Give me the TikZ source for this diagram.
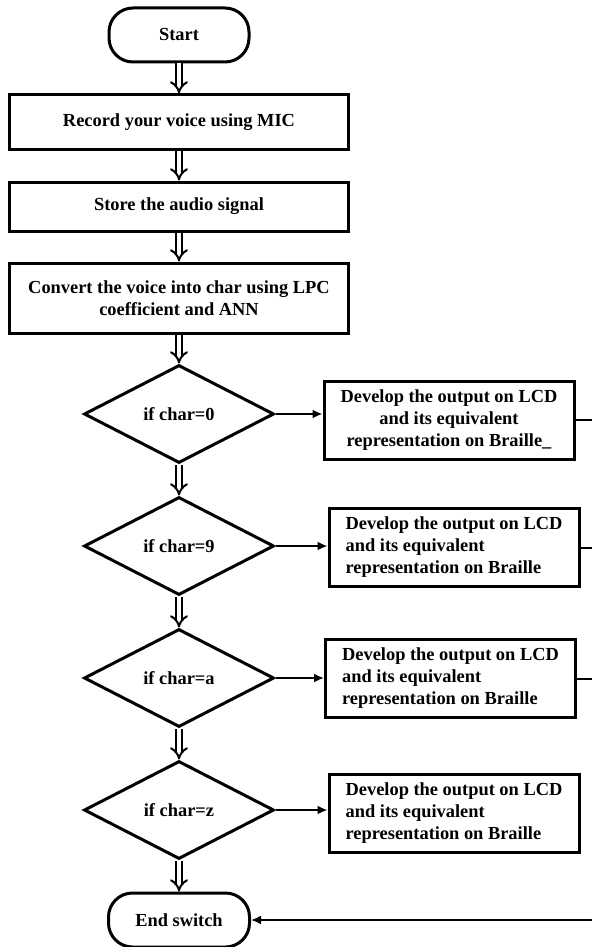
\documentclass[tikz,border=0pt]{standalone}
\usepackage{fontspec}
\setmainfont{Liberation Serif}
\usetikzlibrary{shapes.geometric,arrows.meta}

\begin{document}
\begin{tikzpicture}[x=0.5pt,y=-0.5pt,
    every node/.style={font=\bfseries\fontsize{9.2}{11}\selectfont},
    term/.style={draw,line width=1.5pt,rounded corners=12pt,minimum width=70pt,minimum height=27pt},
    proc/.style={draw,line width=1.5pt,minimum width=169.5pt,align=center},
    test/.style={draw,diamond,line width=1.5pt,minimum width=95pt,minimum height=49pt,inner sep=0pt},
    outbox/.style={draw,line width=1.5pt,minimum width=125pt,minimum height=39pt},
    dbl/.style={double,double distance=2pt,line width=1pt,-{Implies[scale=1.6]}},
    arr/.style={line width=1pt,-{Latex[length=5pt,width=4.5pt]}}]
    \useasboundingbox (0,0) rectangle (592,947);
    \node[term] (start) at (179,35) {Start};
    \node[proc,minimum height=27pt] (rec) at (179,122) {Record your voice using MIC};
    \node[proc,minimum height=24.5pt] (store) at (179,206.5) {Store the audio signal};
    \node[proc,minimum height=35pt] (conv) at (179,298) {Convert the voice into char using LPC\\coefficient and ANN};
    \node[test] (c0) at (179,414) {if char=0};
    \node[test] (c9) at (179,546) {if char=9};
    \node[test] (ca) at (179,678) {if char=a};
    \node[test] (cz) at (179,810) {if char=z};
    \node[outbox,align=center] (o0) at (449,420) {Develop the output on LCD\\and its equivalent\\representation on Braille\_};
    \node[outbox,align=left] (o9) at (454,547.5) {Develop the output on LCD\\and its equivalent\\representation on Braille};
    \node[outbox,align=left] (oa) at (450.5,678.5) {Develop the output on LCD\\and its equivalent\\representation on Braille};
    \node[outbox,align=left] (oz) at (454,813) {Develop the output on LCD\\and its equivalent\\representation on Braille};
    \node[term,minimum width=70.5pt] (stop) at (179,920) {End switch};
    \coordinate (rim) at (592,0);
    \draw[dbl] (start) -- (rec);
    \draw[dbl] (rec) -- (store);
    \draw[dbl] (store) -- (conv);
    \draw[dbl] (conv) -- (c0);
    \draw[dbl] (c0) -- (c9);
    \draw[dbl] (c9) -- (ca);
    \draw[dbl] (ca) -- (cz);
    \draw[dbl] (cz) -- (stop);
    \draw[arr] (c0.east) -- (c0.east -| o0.west);
    \draw[arr] (c9.east) -- (c9.east -| o9.west);
    \draw[arr] (ca.east) -- (ca.east -| oa.west);
    \draw[arr] (cz.east) -- (cz.east -| oz.west);
    \draw[line width=1pt] (o0.east) -- (o0.east -| rim);
    \draw[line width=1pt] (o9.east) -- (o9.east -| rim);
    \draw[line width=1pt] (oa.east) -- (oa.east -| rim);
    \draw[arr] (stop.east -| rim) -- (stop.east);
\end{tikzpicture}
\end{document}
